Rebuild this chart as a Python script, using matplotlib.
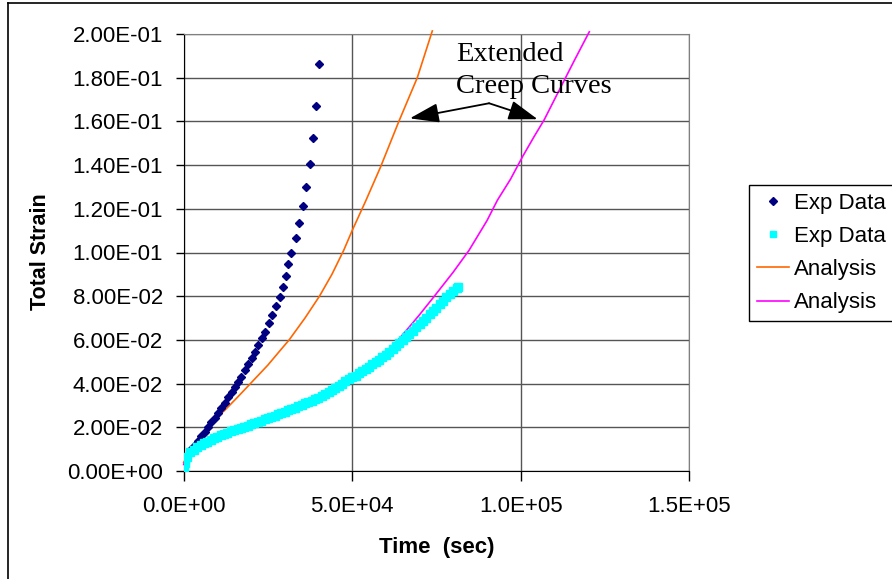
import numpy as np
import matplotlib.pyplot as plt
from matplotlib.lines import Line2D
from matplotlib.ticker import FuncFormatter, MultipleLocator

plt.rcParams['font.family'] = ['Liberation Sans', 'DejaVu Sans']

# exp data 1 (diamonds) - time (s), total strain
exp1_t = [0, 300, 800, 1500, 2300, 3300, 4200, 5200, 6200, 7200, 8200, 9200,
          10200, 11200, 12200, 13200, 14200, 15200, 16200, 17050, 18240, 19220,
          20240, 21220, 22200, 23210, 24200, 25290, 26190, 27470, 28450, 29350,
          30240, 31040, 31830, 33220, 34220, 35400, 36400, 37390, 38280, 39280,
          40260]
exp1_e = [0.003, 0.005, 0.006, 0.008, 0.0100, 0.0119, 0.0138, 0.0158, 0.0178,
          0.0200, 0.0222, 0.0244, 0.0267, 0.0289, 0.0313, 0.0337, 0.0360,
          0.0383, 0.0406, 0.0432, 0.0462, 0.0490, 0.0516, 0.0546, 0.0575,
          0.0610, 0.0638, 0.0679, 0.0715, 0.0755, 0.0798, 0.0844, 0.0892,
          0.0946, 0.0999, 0.1065, 0.1135, 0.1213, 0.1300, 0.1405, 0.1524,
          0.1670, 0.1863]

# exp data 2 (squares, densely sampled)
exp2_t = [0, 250, 500, 1000, 2000, 3000, 4000, 5000, 6000, 7000, 8000, 9000,
          10000, 11000, 12000, 13000, 14000, 15000, 16000, 17000, 18000, 19000,
          20000, 21000, 22000, 23000, 24000, 25000, 26000, 27000, 28000, 29000,
          30000, 31000, 32000, 33000, 34000, 35000, 36000, 37000, 38000, 39000,
          40000, 41000, 42000, 43000, 44000, 45000, 46000, 47000, 48000, 49000,
          50000, 51000, 52000, 53000, 54000, 55000, 56000, 57000, 58000, 59000,
          60000, 61000, 62000, 63000, 64000, 65000, 66000, 67000, 68000, 69000,
          70000, 71000, 72000, 73000, 74000, 75000, 76000, 77000, 78000, 79000,
          80000, 81000, 81400]
exp2_e = [0.000, 0.0035, 0.005, 0.0065, 0.0085, 0.0098, 0.0108, 0.0118, 0.0126,
          0.0134, 0.0142, 0.0150, 0.0157, 0.0164, 0.0170, 0.0176, 0.0182,
          0.0188, 0.0193, 0.0198, 0.0203, 0.0208, 0.0214, 0.0219, 0.0225,
          0.0230, 0.0236, 0.0242, 0.0248, 0.0254, 0.0260, 0.0266, 0.0272,
          0.0278, 0.0284, 0.0290, 0.0296, 0.0302, 0.0309, 0.0315, 0.0322,
          0.0329, 0.0336, 0.0344, 0.0352, 0.0361, 0.0370, 0.0380, 0.0390,
          0.0400, 0.0410, 0.0419, 0.0428, 0.0437, 0.0447, 0.0457, 0.0467,
          0.0477, 0.0488, 0.0499, 0.0510, 0.0521, 0.0533, 0.0545, 0.0558,
          0.0571, 0.0585, 0.0599, 0.0613, 0.0627, 0.0642, 0.0657, 0.0672,
          0.0687, 0.0702, 0.0717, 0.0733, 0.0748, 0.0764, 0.0780, 0.0795,
          0.0811, 0.0826, 0.0838, 0.0844]

# analysis curves
an1_t = [0, 3000, 7300, 8800, 12000, 16000, 19800, 25000, 28000, 31300,
         36000, 40300, 44000, 47500, 50000, 54000, 58400, 63870, 69340, 73800]
an1_e = [0.004, 0.011, 0.0203, 0.0233, 0.0275, 0.0338, 0.0400, 0.0485,
         0.0540, 0.0600, 0.0700, 0.0800, 0.0900, 0.1010, 0.1100, 0.1235,
         0.1390, 0.1600, 0.1800, 0.2014]

an2_t = [0, 1000, 5000, 10000, 20000, 30000, 40000, 50000, 55000, 60000, 63400,
         67000, 70000, 74300, 80000, 84700, 90000, 93150, 97000, 100600,
         104000, 107000, 112000, 116000, 120400]
an2_e = [0.003, 0.0065, 0.0118, 0.0157, 0.0214, 0.0272, 0.0336, 0.0428,
         0.0478, 0.0535, 0.0595, 0.0660, 0.0715, 0.0798, 0.0910, 0.1010,
         0.1145, 0.1240, 0.1335, 0.1439, 0.1530, 0.1607, 0.1759, 0.1880,
         0.2010]

fig = plt.figure(figsize=(8.92, 5.79), dpi=100)
ax = fig.add_axes([183.7 / 892, 1 - 471 / 579, (689 - 183.7) / 892, (471 - 34) / 579])

ax.plot(an1_t, an1_e, color='#FF6600', lw=1.2, label='Analysis', zorder=3, clip_on=False)
ax.plot(an2_t, an2_e, color='#FF00FF', lw=1.2, label='Analysis', zorder=3, clip_on=False)
ax.plot(exp1_t, exp1_e, ls='none', marker='D', ms=4.5, color='#000080',
        label='Exp Data', zorder=4)
ax.plot(exp2_t, exp2_e, ls='none', marker='s', ms=5.5, color='#00FFFF',
        label='Exp Data', zorder=4)

ax.set_xlim(0, 1.5e5)
ax.set_ylim(0, 0.2)
ax.xaxis.set_major_locator(MultipleLocator(5e4))
ax.yaxis.set_major_locator(MultipleLocator(0.02))
ax.xaxis.set_major_formatter(FuncFormatter(lambda v, p: f"{v:.1E}"))
ax.yaxis.set_major_formatter(FuncFormatter(lambda v, p: f"{v:.2E}"))
ax.tick_params(axis='y', direction='out', length=6, width=1, pad=9, labelsize=16)
ax.tick_params(axis='x', direction='out', length=7, width=1, pad=11, labelsize=16)
ax.grid(True, color='#555555', lw=1)
ax.set_axisbelow(True)
for s in ['top', 'right']:
    ax.spines[s].set_color('#808080')
for s in ['left', 'bottom']:
    ax.spines[s].set_color('black')

fig.text(40 / 892, 1 - 252 / 579, 'Total Strain', rotation=90, fontsize=15.5,
         fontweight='bold', ha='center', va='center')
fig.text(437 / 892, 1 - 548 / 579, 'Time  (sec)', fontsize=16,
         fontweight='bold', ha='center', va='center')

# annotation
serif = ['Liberation Serif', 'DejaVu Serif']
ax.text(80760, 0.1877, 'Extended', family=serif, fontsize=20.5, va='baseline')
ax.text(80760, 0.1730, 'Creep Curves', family=serif, fontsize=20.5, va='baseline')
base = (90650, 0.1683)
for tip in [(67140, 0.1614), (105060, 0.1610)]:
    ax.annotate('', xy=tip, xytext=base,
                arrowprops=dict(arrowstyle='-|>,head_length=0.9,head_width=0.3',
                                color='black', lw=1.3, shrinkA=0, shrinkB=0,
                                mutation_scale=20))

# legend (order as in reference)
h, l = ax.get_legend_handles_labels()
order = [2, 3, 0, 1]
leg = fig.legend([h[i] for i in order], [l[i] for i in order],
                 loc='upper left', bbox_to_anchor=(749 / 892, 1 - 185 / 579),
                 borderaxespad=0, fontsize=16, fancybox=False, framealpha=1,
                 edgecolor='black', handlelength=1.45, handletextpad=0.22,
                 labelspacing=0.55, borderpad=0.35, markerscale=0.8)
leg.get_frame().set_linewidth(1)

# outer border of chart area
fig.add_artist(Line2D([8 / 892, 8 / 892], [0, 1 - 3 / 579], color='black', lw=1.2))
fig.add_artist(Line2D([8 / 892, 1], [1 - 3 / 579, 1 - 3 / 579], color='black', lw=1.2))

fig.savefig('out.png', dpi=100)
